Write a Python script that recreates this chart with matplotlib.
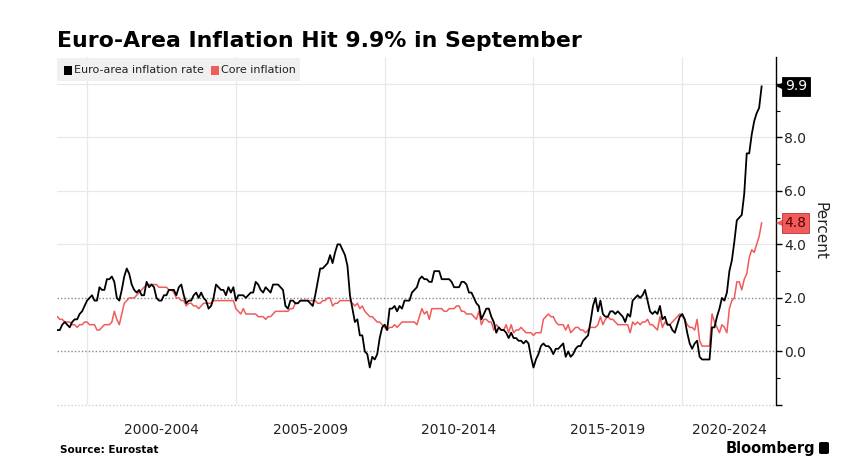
import matplotlib
matplotlib.use("Agg")
import matplotlib.pyplot as plt
import matplotlib.transforms as mtransforms
from matplotlib.patches import Rectangle, FancyBboxPatch
import numpy as np

# ---------------- data (monthly, y/y %, Jan 1999 - Sep 2022) ----------------
start_year = 1999
headline = [
    0.8, 0.8, 1.0, 1.1, 1.0, 0.9, 1.1, 1.2, 1.2, 1.4, 1.5, 1.7,   # 1999
    1.9, 2.0, 2.1, 1.9, 1.9, 2.4, 2.3, 2.3, 2.7, 2.7, 2.8, 2.6,   # 2000
    2.0, 1.9, 2.3, 2.8, 3.1, 2.9, 2.5, 2.3, 2.2, 2.3, 2.1, 2.1,   # 2001
    2.6, 2.4, 2.5, 2.4, 2.0, 1.9, 1.9, 2.1, 2.1, 2.3, 2.3, 2.3,   # 2002
    2.1, 2.4, 2.5, 2.1, 1.8, 1.9, 1.9, 2.1, 2.2, 2.0, 2.2, 2.0,   # 2003
    1.9, 1.6, 1.7, 2.0, 2.5, 2.4, 2.3, 2.3, 2.1, 2.4, 2.2, 2.4,   # 2004
    1.9, 2.1, 2.1, 2.1, 2.0, 2.1, 2.2, 2.2, 2.6, 2.5, 2.3, 2.2,   # 2005
    2.4, 2.3, 2.2, 2.5, 2.5, 2.5, 2.4, 2.3, 1.7, 1.6, 1.9, 1.9,   # 2006
    1.8, 1.8, 1.9, 1.9, 1.9, 1.9, 1.8, 1.7, 2.1, 2.6, 3.1, 3.1,   # 2007
    3.2, 3.3, 3.6, 3.3, 3.7, 4.0, 4.0, 3.8, 3.6, 3.2, 2.1, 1.6,   # 2008
    1.1, 1.2, 0.6, 0.6, 0.0, -0.1, -0.6, -0.2, -0.3, -0.1, 0.5, 0.9,  # 2009
    1.0, 0.8, 1.6, 1.6, 1.7, 1.5, 1.7, 1.6, 1.9, 1.9, 1.9, 2.2,   # 2010
    2.3, 2.4, 2.7, 2.8, 2.7, 2.7, 2.6, 2.6, 3.0, 3.0, 3.0, 2.7,   # 2011
    2.7, 2.7, 2.7, 2.6, 2.4, 2.4, 2.4, 2.6, 2.6, 2.5, 2.2, 2.2,   # 2012
    2.0, 1.8, 1.7, 1.2, 1.4, 1.6, 1.6, 1.3, 1.1, 0.7, 0.9, 0.8,   # 2013
    0.8, 0.7, 0.5, 0.7, 0.5, 0.5, 0.4, 0.4, 0.3, 0.4, 0.3, -0.2,  # 2014
    -0.6, -0.3, -0.1, 0.2, 0.3, 0.2, 0.2, 0.1, -0.1, 0.1, 0.1, 0.2,  # 2015
    0.3, -0.2, 0.0, -0.2, -0.1, 0.1, 0.2, 0.2, 0.4, 0.5, 0.6, 1.1,  # 2016
    1.7, 2.0, 1.5, 1.9, 1.4, 1.3, 1.3, 1.5, 1.5, 1.4, 1.5, 1.4,   # 2017
    1.3, 1.1, 1.4, 1.3, 1.9, 2.0, 2.1, 2.0, 2.1, 2.3, 1.9, 1.5,   # 2018
    1.4, 1.5, 1.4, 1.7, 1.2, 1.3, 1.0, 1.0, 0.8, 0.7, 1.0, 1.3,   # 2019
    1.4, 1.2, 0.7, 0.3, 0.1, 0.3, 0.4, -0.2, -0.3, -0.3, -0.3, -0.3,  # 2020
    0.9, 0.9, 1.3, 1.6, 2.0, 1.9, 2.2, 3.0, 3.4, 4.1, 4.9, 5.0,   # 2021
    5.1, 5.9, 7.4, 7.4, 8.1, 8.6, 8.9, 9.1, 9.9,                  # 2022
]
core = [
    1.3, 1.2, 1.2, 1.1, 1.1, 1.1, 1.0, 1.0, 0.9, 1.0, 1.0, 1.1,   # 1999
    1.1, 1.0, 1.0, 1.0, 0.8, 0.8, 0.9, 1.0, 1.0, 1.0, 1.1, 1.5,   # 2000
    1.2, 1.0, 1.4, 1.8, 1.9, 2.0, 2.0, 2.0, 2.1, 2.2, 2.3, 2.4,   # 2001
    2.5, 2.5, 2.5, 2.5, 2.5, 2.4, 2.4, 2.4, 2.4, 2.3, 2.3, 2.2,   # 2002
    2.0, 2.0, 1.9, 1.9, 1.7, 1.8, 1.8, 1.7, 1.7, 1.6, 1.7, 1.8,   # 2003
    1.8, 1.8, 1.8, 1.9, 1.9, 1.9, 1.9, 1.9, 1.9, 1.9, 1.9, 1.9,   # 2004
    1.6, 1.5, 1.4, 1.6, 1.4, 1.4, 1.4, 1.4, 1.4, 1.3, 1.3, 1.3,   # 2005
    1.2, 1.3, 1.3, 1.4, 1.5, 1.5, 1.5, 1.5, 1.5, 1.5, 1.6, 1.6,   # 2006
    1.8, 1.8, 1.9, 1.9, 1.9, 1.9, 1.9, 1.9, 1.9, 1.8, 1.8, 1.9,   # 2007
    1.9, 2.0, 2.0, 1.7, 1.8, 1.8, 1.9, 1.9, 1.9, 1.9, 1.9, 1.8,   # 2008
    1.7, 1.8, 1.6, 1.7, 1.5, 1.4, 1.3, 1.3, 1.2, 1.1, 1.1, 1.0,   # 2009
    0.9, 0.8, 0.9, 0.9, 1.0, 0.9, 1.0, 1.1, 1.1, 1.1, 1.1, 1.1,   # 2010
    1.1, 1.0, 1.3, 1.6, 1.4, 1.5, 1.2, 1.6, 1.6, 1.6, 1.6, 1.6,   # 2011
    1.5, 1.5, 1.6, 1.6, 1.6, 1.7, 1.7, 1.5, 1.5, 1.4, 1.4, 1.4,   # 2012
    1.3, 1.2, 1.5, 1.0, 1.2, 1.2, 1.1, 1.1, 0.8, 1.0, 0.9, 0.8,   # 2013
    0.8, 1.0, 0.7, 1.0, 0.7, 0.8, 0.8, 0.9, 0.8, 0.7, 0.7, 0.7,   # 2014
    0.6, 0.7, 0.7, 0.7, 1.2, 1.3, 1.4, 1.3, 1.3, 1.1, 1.0, 1.0,   # 2015
    1.0, 0.8, 1.0, 0.7, 0.8, 0.9, 0.9, 0.8, 0.8, 0.7, 0.8, 0.9,   # 2016
    0.9, 0.9, 1.0, 1.3, 1.0, 1.2, 1.3, 1.2, 1.2, 1.1, 1.0, 1.0,   # 2017
    1.0, 1.0, 1.0, 0.7, 1.1, 1.0, 1.1, 1.0, 1.1, 1.1, 1.2, 1.0,   # 2018
    1.0, 0.9, 0.8, 1.3, 0.9, 1.1, 1.0, 1.0, 1.1, 1.2, 1.3, 1.4,   # 2019
    1.3, 1.2, 1.0, 0.9, 0.9, 0.8, 1.2, 0.4, 0.2, 0.2, 0.2, 0.2,   # 2020
    1.4, 1.1, 0.9, 0.7, 1.0, 0.9, 0.7, 1.6, 1.9, 2.0, 2.6, 2.6,   # 2021
    2.3, 2.7, 2.9, 3.5, 3.8, 3.7, 4.0, 4.3, 4.8,                  # 2022
]
series_names = ["Euro-area inflation rate", "Core inflation"]
period_starts = [2000, 2005, 2010, 2015, 2020]
period_labels = ["2000-2004", "2005-2009", "2010-2014", "2015-2019", "2020-2024"]

title = "Euro-Area Inflation Hit 9.9% in September"
source = "Source: Eurostat"

# ---------------- figure ----------------
W, H = 841, 470
fig = plt.figure(figsize=(W / 100, H / 100), dpi=100)
fig.patch.set_facecolor("white")

ax_l, ax_r, ax_t, ax_b = 57, 776, 57, 405
ax = fig.add_axes([ax_l / W, 1 - ax_b / H, (ax_r - ax_l) / W, (ax_b - ax_t) / H])

t = start_year + np.arange(len(headline)) / 12.0
t_core = start_year + np.arange(len(core)) / 12.0

BLACK = "#000000"
RED = "#f05b5b"

x_right = 2023.15
ax.set_xlim(start_year - 0.01, x_right)
ax.set_ylim(-2.0, 11.0)

# gridlines
for yv in [4, 6, 8, 10]:
    ax.axhline(yv, color="#e8e8e8", lw=0.9, zorder=0)
for yv in [0, 2]:
    ax.axhline(yv, color="#8a8a8a", lw=1.0, ls=(0, (1, 1.5)), zorder=1)
ax.axhline(-2, color="#d0d0d0", lw=1.0, ls=(0, (1, 1.5)), zorder=1, clip_on=False)
for xv in period_starts:
    ax.axvline(xv, color="#e8e8e8", lw=0.9, zorder=0)

ax.plot(t_core, core, color=RED, lw=1.1, zorder=3, solid_joinstyle="round")
ax.plot(t, headline, color=BLACK, lw=1.3, zorder=4, solid_joinstyle="round")

# spines
for s in ["left", "top", "bottom"]:
    ax.spines[s].set_visible(False)
ax.spines["right"].set_color("#000000")
ax.spines["right"].set_linewidth(1.0)

# y axis on right
ax.yaxis.tick_right()
ax.yaxis.set_label_position("right")
ax.set_yticks([-2, 0, 2, 4, 6, 8, 10])
ax.set_yticklabels(["", "0.0", "2.0", "4.0", "6.0", "8.0", ""])
ax.set_yticks([-1, 1, 3, 5, 7, 9], minor=True)
ax.tick_params(axis="y", which="major", direction="out", length=4, width=1,
               pad=2, labelsize=10, labelcolor="#222222", colors="#000000")
ax.tick_params(axis="y", which="minor", direction="out", length=3, width=0.8)
ax.set_ylabel("Percent", rotation=270, fontsize=11, labelpad=15, color="#222222")

# x axis: period labels centered within visible part of each period
centers = []
for s in period_starts:
    e = min(s + 5, x_right)
    centers.append((s + e) / 2)
ax.set_xticks(centers)
ax.set_xticklabels(period_labels)
ax.tick_params(axis="x", length=0, pad=13, labelsize=10, labelcolor="#222222")

# value tags on right axis
blend = mtransforms.blended_transform_factory(ax.transAxes, ax.transData)
for vals, col, txtcol, edge in [(headline, BLACK, "white", BLACK),
                                (core, RED, "#5a0000", "#c03030")]:
    v = vals[-1]
    ax.text(1.012, v, f"{v:.1f}", transform=blend, ha="left", va="center",
            fontsize=10, color=txtcol, zorder=10, clip_on=False,
            bbox=dict(boxstyle="square,pad=0.2", fc=col, ec=edge, lw=0.6))
    ax.plot([1.008], [v], marker="<", ms=9, color=col, mec=edge, mew=0.0,
            transform=blend, clip_on=False, zorder=9)

# title
fig.text(57 / W, 1 - 47 / H, title, fontsize=15.8, fontweight="bold",
         ha="left", va="baseline", color="#000000")

# legend (manual)
leg_y0, leg_y1 = 58, 81
fig.patches.append(Rectangle((57 / W, 1 - leg_y1 / H), (300 - 57) / W,
                             (leg_y1 - leg_y0) / H, transform=fig.transFigure,
                             fc="#f0f0f0", ec="none", zorder=5))
ly = 1 - 70 / H
entries = [(64, 74, series_names[0], BLACK), (211, 221, series_names[1], RED)]
for sx, tx, name, col in entries:
    fig.patches.append(Rectangle((sx / W, ly - 4.5 / H), 8 / W, 9 / H,
                                 transform=fig.transFigure, fc=col, ec="none", zorder=6))
    fig.text(tx / W, ly, name, fontsize=8, ha="left", va="center",
             color="#222222", zorder=7)

# footer
fig.text(60 / W, 1 - 450 / H, source, fontsize=7.5, fontweight="bold",
         ha="left", va="center", color="#000000")
fig.text(815 / W, 1 - 448 / H, "Bloomberg", fontsize=10.5, fontweight="bold",
         ha="right", va="center", color="#000000")
fig.patches.append(FancyBboxPatch((819 / W, 1 - 454 / H), 10 / W, 12 / H,
                                  boxstyle="round,pad=0.0,rounding_size=0.003",
                                  transform=fig.transFigure, fc="#000000", ec="none"))

fig.savefig("out.png", dpi=100, facecolor="white")
